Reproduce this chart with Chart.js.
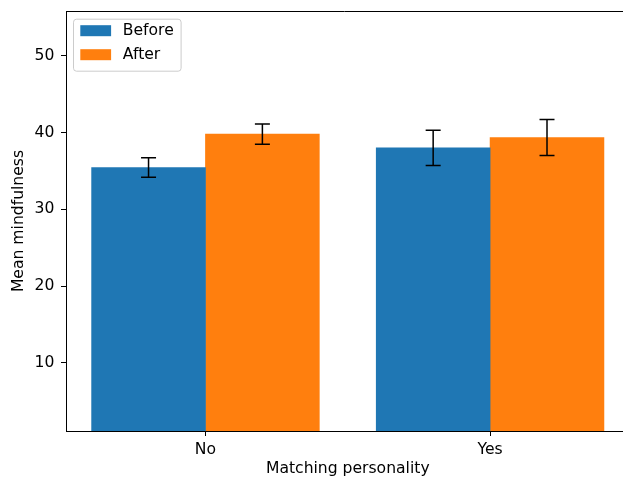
<!DOCTYPE html>
<html>
<head>
<meta charset="utf-8">
<script src="https://cdn.jsdelivr.net/npm/chart.js@4/dist/chart.umd.min.js"></script>
<style>
  html, body { margin: 0; padding: 0; background: #fff; overflow: hidden; }
  canvas { display: block; }
</style>
</head>
<body>
<canvas id="c" width="623" height="481" style="width:623px;height:481px"></canvas>
<script>
// Mean mindfulness by personality match, before and after
const categories = ['No', 'Yes'];
const seriesNames = ['Before', 'After'];
const beforeMeans = [35.45, 38.0];
const beforeErrors = [1.27, 2.3];
const afterMeans = [39.8, 39.35];
const afterErrors = [1.33, 2.35];
const yTicks = [10, 20, 30, 40, 50];

const FONT = 'DejaVu Sans';
const FONT_SIZE = 15.6;
const BLUE = '#1f77b4';
const ORANGE = '#ff7f0e';

// bars sit either side of each category position
const OFFSET = 0.2;
const toPoints = (vals, shift) => vals.map((v, i) => ({ x: i + shift, y: v }));

const errorBars = {
  id: 'errorBars',
  afterDatasetsDraw(chart) {
    const ctx = chart.ctx;
    const ys = chart.scales.y;
    ctx.save();
    ctx.strokeStyle = '#000';
    ctx.lineWidth = 1.5;
    chart.data.datasets.forEach((ds, d) => {
      const meta = chart.getDatasetMeta(d);
      meta.data.forEach((bar, i) => {
        const m = ds.data[i].y, e = ds.errors[i];
        const x = bar.x;
        const y1 = ys.getPixelForValue(m + e);
        const y2 = ys.getPixelForValue(m - e);
        ctx.beginPath();
        ctx.moveTo(x, y1); ctx.lineTo(x, y2);
        ctx.moveTo(x - 7.5, y1); ctx.lineTo(x + 7.5, y1);
        ctx.moveTo(x - 7.5, y2); ctx.lineTo(x + 7.5, y2);
        ctx.stroke();
      });
    });
    ctx.restore();
  }
};

const frameAndLegend = {
  id: 'frameAndLegend',
  afterDraw(chart) {
    const ctx = chart.ctx;
    const a = chart.chartArea;
    const xs = chart.scales.x;
    ctx.save();
    // top spine
    ctx.strokeStyle = '#000';
    ctx.lineWidth = 1;
    ctx.beginPath();
    ctx.moveTo(a.left, Math.round(a.top) + 0.5);
    ctx.lineTo(a.right, Math.round(a.top) + 0.5);
    ctx.stroke();

    ctx.font = FONT_SIZE + 'px "' + FONT + '"';
    // x axis title, centred between the two groups
    ctx.fillStyle = '#000';
    ctx.textAlign = 'center';
    ctx.textBaseline = 'alphabetic';
    ctx.fillText('Matching personality', xs.getPixelForValue(0.5), 473.3);

    // legend box, upper left
    const bx = a.left + 7.5, by = a.top + 8.2, bw = 107.6, bh = 52, r = 3;
    ctx.beginPath();
    ctx.moveTo(bx + r, by);
    ctx.arcTo(bx + bw, by, bx + bw, by + bh, r);
    ctx.arcTo(bx + bw, by + bh, bx, by + bh, r);
    ctx.arcTo(bx, by + bh, bx, by, r);
    ctx.arcTo(bx, by, bx + bw, by, r);
    ctx.closePath();
    ctx.fillStyle = 'rgba(255,255,255,0.8)';
    ctx.fill();
    ctx.strokeStyle = '#cccccc';
    ctx.lineWidth = 1;
    ctx.stroke();

    ctx.textBaseline = 'middle';
    ctx.textAlign = 'left';
    chart.data.datasets.forEach((ds, d) => {
      const py = by + 6 + d * 24;
      ctx.fillStyle = ds.backgroundColor;
      ctx.fillRect(bx + 6.8, py, 30.8, 11);
      ctx.fillStyle = '#000';
      ctx.fillText(ds.label, bx + 49.3, py + 6.1);
    });
    ctx.restore();
  }
};

new Chart(document.getElementById('c'), {
  type: 'bar',
  data: {
    datasets: [
      { label: seriesNames[0], data: toPoints(beforeMeans, -OFFSET), errors: beforeErrors,
        backgroundColor: BLUE, borderWidth: 0 },
      { label: seriesNames[1], data: toPoints(afterMeans, OFFSET), errors: afterErrors,
        backgroundColor: ORANGE, borderWidth: 0 }
    ]
  },
  options: {
    responsive: false,
    maintainAspectRatio: false,
    animation: false,
    devicePixelRatio: 1,
    grouped: false,
    categoryPercentage: 1,
    barPercentage: 1,
    layout: { padding: 0 },
    plugins: { legend: { display: false }, tooltip: { enabled: false } },
    scales: {
      x: {
        type: 'linear',
        min: -0.49,
        max: 1.467,
        offset: false,
        afterBuildTicks: (s) => { s.ticks = categories.map((_, i) => ({ value: i })); },
        afterFit: (s) => { s.height = 50; s.paddingLeft = 0; s.paddingRight = 0; },
        ticks: {
          callback: (v) => categories[v],
          color: '#000',
          padding: 4.2,
          maxRotation: 0,
          autoSkip: false,
          font: { family: FONT, size: FONT_SIZE }
        },
        grid: { offset: false, drawOnChartArea: false, drawTicks: true, tickLength: 5, tickColor: '#000', tickWidth: 1 },
        border: { display: true, color: '#000', width: 1 }
      },
      y: {
        type: 'linear',
        min: 1.1,
        max: 55.85,
        afterBuildTicks: (s) => { s.ticks = yTicks.map(v => ({ value: v })); },
        afterFit: (s) => { s.width = 66; s.paddingTop = 11; s.paddingBottom = 0; },
        ticks: {
          color: '#000',
          padding: 6.7,
          font: { family: FONT, size: FONT_SIZE }
        },
        grid: { drawOnChartArea: false, drawTicks: true, tickLength: 5, tickColor: '#000', tickWidth: 1 },
        border: { display: true, color: '#000', width: 1 },
        title: {
          display: true,
          text: 'Mean mindfulness',
          color: '#000',
          padding: { top: 9.2, bottom: 0 },
          font: { family: FONT, size: FONT_SIZE }
        }
      }
    }
  },
  plugins: [errorBars, frameAndLegend]
});
</script>
</body>
</html>
